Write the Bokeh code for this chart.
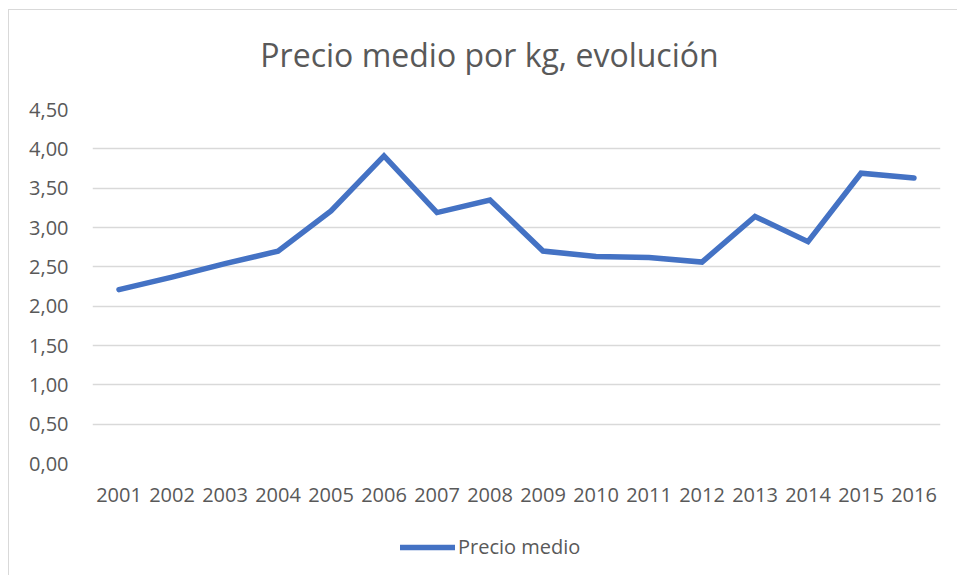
from bokeh.plotting import figure
from bokeh.layouts import column
from bokeh.models import (FixedTicker, CustomJSTickFormatter, Legend, LegendItem,
                          Range1d, Label)
from bokeh.embed import file_html
from bokeh.resources import INLINE

years = [2001, 2002, 2003, 2004, 2005, 2006, 2007, 2008,
         2009, 2010, 2011, 2012, 2013, 2014, 2015, 2016]
precio_medio = [2.21, 2.37, 2.54, 2.70, 3.21, 3.91, 3.19, 3.35,
                2.70, 2.63, 2.62, 2.56, 3.14, 2.82, 3.69, 3.63]
y_ticks = [0, 0.5, 1.0, 1.5, 2.0, 2.5, 3.0, 3.5, 4.0, 4.5]
title_text = "Precio medio por kg, evolución"
series_name = "Precio medio"

FONT = "Open Sans"
TXT = "#595959"
BLUE = "#4472c4"
W = 948


def strip(height):
    f = figure(width=W, height=height, output_backend="svg", toolbar_location=None,
               x_range=Range1d(0, 1), y_range=Range1d(0, 1),
               min_border_left=83, min_border_right=17,
               min_border_top=0, min_border_bottom=0)
    f.xaxis.visible = False
    f.yaxis.visible = False
    f.xgrid.visible = False
    f.ygrid.visible = False
    f.outline_line_color = None
    return f


# title strip
p0 = strip(85)
p0.add_layout(Label(x=397, y=41, x_units="screen", y_units="screen",
                    text=title_text, text_align="center", text_baseline="alphabetic",
                    text_font=FONT, text_font_size="32px", text_color=TXT))

# main chart
p = figure(width=W, height=420, output_backend="svg", toolbar_location=None,
           x_range=Range1d(2000.5, 2016.5), y_range=Range1d(0, 4.5),
           min_border_left=83, min_border_right=17, min_border_top=14,
           min_border_bottom=52)
p.outline_line_color = None
p.background_fill_color = "white"
p.border_fill_color = "white"

p.xgrid.grid_line_color = None
p.ygrid.grid_line_color = "#d9d9d9"
p.ygrid.grid_line_width = 1.5
p.yaxis.ticker = FixedTicker(ticks=y_ticks)
p.xaxis.ticker = FixedTicker(ticks=years)
p.yaxis.formatter = CustomJSTickFormatter(code="return tick.toFixed(2).replace('.', ',');")
p.xaxis.formatter = CustomJSTickFormatter(code="return tick.toFixed(0);")

for ax in (p.xaxis, p.yaxis):
    ax.axis_line_color = None
    ax.major_tick_line_color = None
    ax.minor_tick_line_color = None
    ax.major_tick_out = 0
    ax.major_tick_in = 0
    ax.major_label_text_font = FONT
    ax.major_label_text_font_size = "20px"
    ax.major_label_text_color = TXT
p.xaxis.major_label_standoff = 24
p.yaxis.major_label_standoff = 24

p.line(years, precio_medio, line_color=BLUE, line_width=5.5,
       line_cap="round", line_join="miter")

# legend strip (series drawn out of view; only its legend entry shows)
p2 = strip(60)
r2 = p2.line(years, precio_medio, line_color=BLUE, line_width=5.5, line_cap="round")
legend = Legend(items=[LegendItem(label=series_name, renderers=[r2])],
                location=(308, 15), orientation="horizontal",
                glyph_width=55, glyph_height=20, label_height=20, label_standoff=3,
                padding=0, margin=0, border_line_color=None,
                background_fill_alpha=0,
                label_text_font=FONT, label_text_font_size="20px",
                label_text_color=TXT)
p2.add_layout(legend, "center")

layout = column(p0, p, p2, margin=(9, 0, 0, 8),
                styles={"border-top": "1px solid #d9d9d9",
                        "border-left": "1px solid #d9d9d9"})

open("out.html", "w").write(file_html(layout, INLINE))
